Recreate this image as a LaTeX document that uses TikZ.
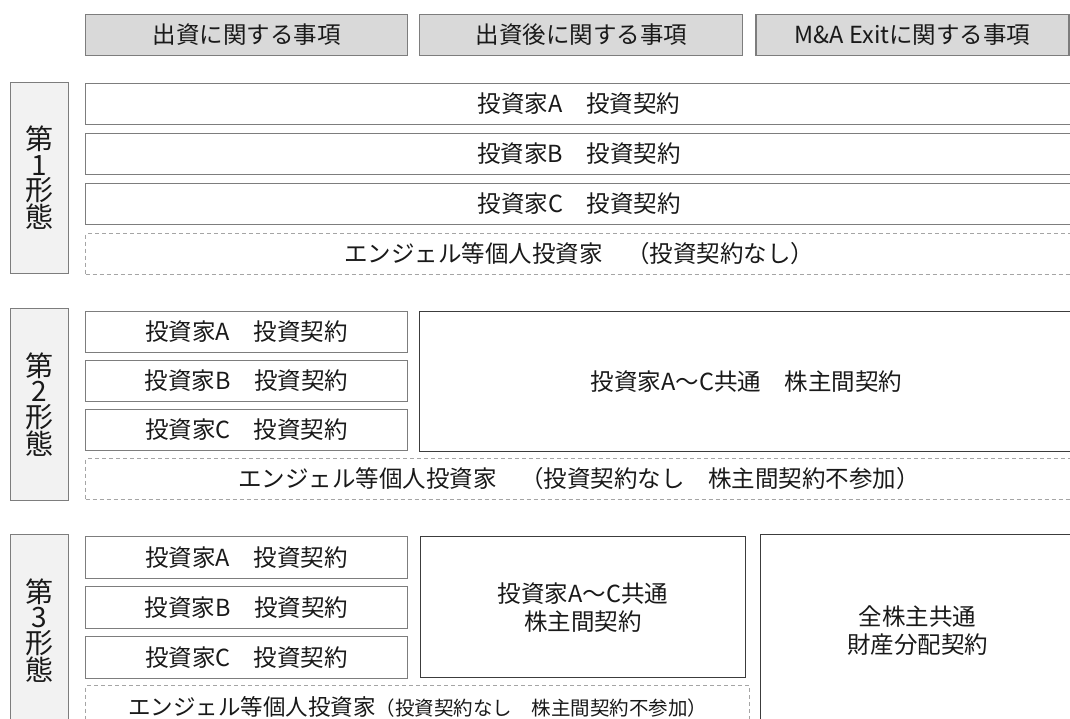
\documentclass[tikz,border=0pt]{standalone}
\usepackage{fontspec}
\newfontfamily\jp{Noto Sans CJK JP}
\usetikzlibrary{positioning}
\definecolor{hdgray}{RGB}{217,217,217}
\definecolor{sidegray}{RGB}{242,242,242}
\definecolor{edgegray}{RGB}{125,125,125}
\definecolor{dashgray}{RGB}{165,165,165}
\definecolor{darkedge}{RGB}{60,60,60}
\definecolor{txtgray}{RGB}{25,25,25}
\tikzstyle{headbox} = [rectangle, draw=edgegray, fill=hdgray, line width=1.2pt, minimum height=41pt, inner sep=0pt, text=txtgray, font=\jp\fontsize{23.5}{27}\selectfont]
\tikzstyle{sidebox} = [rectangle, draw=edgegray, fill=sidegray, line width=1.2pt, minimum width=58pt, minimum height=192pt, inner sep=0pt, align=center, text=txtgray, font=\jp\fontsize{28}{25.5}\selectfont]
\tikzstyle{rowbox} = [rectangle, draw=edgegray, line width=1pt, minimum height=41pt, inner sep=0pt, text=txtgray, font=\jp\fontsize{23.5}{28}\selectfont]
\tikzstyle{dashbox} = [rowbox, draw=dashgray, dashed, dash pattern=on 4pt off 3pt]
\tikzstyle{sharebox} = [rowbox, draw=darkedge, line width=1.2pt, align=center]

\begin{document}
\begin{tikzpicture}
\useasboundingbox (0,0) rectangle (1070pt,-718pt);
\clip (0,0) rectangle (1070pt,-718pt);
% Headers
\node[headbox, minimum width=322pt, anchor=north west] (h1) at (85pt,-14pt) {出資に関する事項};
\node[headbox, minimum width=323pt, right=11pt of h1] (h2) {出資後に関する事項};
\node[headbox, minimum width=313pt, right=12pt of h2] (h3) {M\&A Exitに関する事項};

% Form 1
\node[sidebox, minimum height=191pt, anchor=north west] (k1) at (10pt,-82pt) {第\\1\\形\\態};
\node[rowbox, minimum width=987pt, anchor=north west] (a1) at (85pt,-83pt) {投資家A　投資契約};
\node[rowbox, minimum width=987pt, below=8pt of a1] (b1) {投資家B　投資契約};
\node[rowbox, minimum width=987pt, below=8pt of b1] (c1) {投資家C　投資契約};
\node[dashbox, minimum width=987pt, below=8pt of c1] (e1) {エンジェル等個人投資家　（投資契約なし）};

% Form 2
\node[sidebox, anchor=north west] (k2) at (10pt,-308pt) {第\\2\\形\\態};
\node[rowbox, minimum width=322pt, anchor=north west] (a2) at (85pt,-311pt) {投資家A　投資契約};
\node[rowbox, minimum width=322pt, below=7pt of a2] (b2) {投資家B　投資契約};
\node[rowbox, minimum width=322pt, below=7pt of b2] (c2) {投資家C　投資契約};
\node[sharebox, minimum width=654pt, minimum height=140pt, anchor=north west] (s2) at (419pt,-311pt) {投資家A～C共通　株主間契約};
\node[dashbox, minimum width=987pt, below=7pt of c2.south west, anchor=north west] (e2) {エンジェル等個人投資家　（投資契約なし　株主間契約不参加）};

% Form 3
\node[sidebox, anchor=north west] (k3) at (10pt,-534pt) {第\\3\\形\\態};
\node[rowbox, minimum width=322pt, minimum height=42pt, anchor=north west] (a3) at (85pt,-536pt) {投資家A　投資契約};
\node[rowbox, minimum width=322pt, minimum height=42pt, below=7pt of a3] (b3) {投資家B　投資契約};
\node[rowbox, minimum width=322pt, minimum height=42pt, below=7pt of b3] (c3) {投資家C　投資契約};
\node[sharebox, minimum width=325pt, minimum height=141pt, anchor=north west] (s3) at (420pt,-536pt) {投資家A～C共通\\株主間契約};
\node[sharebox, minimum width=314pt, minimum height=192pt, anchor=north west] (p3) at (760pt,-534pt) {全株主共通\\財産分配契約};
\node[dashbox, minimum width=664pt, minimum height=42pt, below=6pt of c3.south west, anchor=north west, font=\jp\fontsize{22.5}{28}\selectfont] (e3) {エンジェル等個人投資家{\fontsize{19.5}{24}\selectfont（投資契約なし　株主間契約不参加）}};
\end{tikzpicture}
\end{document}
